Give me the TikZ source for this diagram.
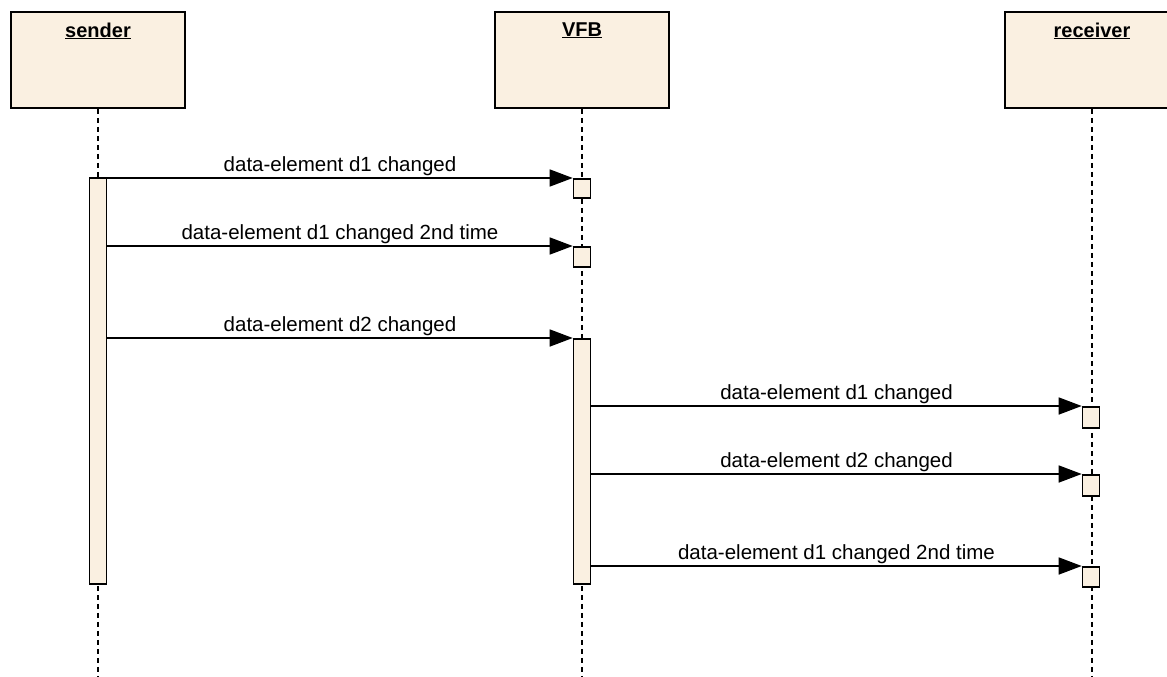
\documentclass[tikz,border=0pt]{standalone}
\usepackage{fontspec}
\setmainfont{Liberation Sans}
\usepackage{xcolor}
\usetikzlibrary{arrows.meta}

\definecolor{umlbeige}{RGB}{250,240,225}

\tikzset{
  lifehead/.style={draw, fill=umlbeige, line width=1.8pt, minimum width=174pt, minimum height=96pt, anchor=north, inner sep=0pt},
  headtext/.style={anchor=north, font=\fontsize{20}{24}\selectfont\bfseries, yshift=-8pt},
  lifeline/.style={line width=1.5pt, dash pattern=on 5pt off 4pt},
  actbar/.style={draw, fill=umlbeige, line width=1.6pt, minimum width=17pt, anchor=north, inner sep=0pt},
  msg/.style={line width=1.5pt, -{Triangle[length=23pt,width=17pt]}},
  msgtext/.style={above, inner sep=1.5pt, font=\fontsize{20.5}{24}\selectfont}
}

\begin{document}
\begin{tikzpicture}[x=1pt,y=-1pt]
\useasboundingbox (0,0) rectangle (1167,677);

%lifeline heads
\node[lifehead, label={[headtext]north:\underline{sender}}] (sender) at (98,11) {};
\node[lifehead, label={[headtext]north:\underline{VFB}}] (vfb) at (582,11) {};
\node[lifehead, label={[headtext]north:\underline{receiver}}] (receiver) at (1092,11) {};

\coordinate (sender-end) at (98,677);
\coordinate (vfb-end) at (582,677);
\coordinate (receiver-end) at (1092,677);

\draw[lifeline] (sender.south) -- (sender-end);
\draw[lifeline] (vfb.south) -- (vfb-end);
\draw[lifeline] (receiver.south) -- (receiver-end);

%activations
\node[actbar, minimum height=406pt] (sa) at (98,177) {};
\node[actbar, minimum height=19pt] (va1) at (582,178) {};
\node[actbar, minimum height=20pt] (va2) at (582,246) {};
\node[actbar, minimum height=245pt] (va3) at (582,338) {};
\node[actbar, minimum height=21pt] (ra1) at (1091,406) {};
\node[actbar, minimum height=21pt] (ra2) at (1091,474) {};
\node[actbar, minimum height=20pt] (ra3) at (1091,566) {};

%messages
\draw[msg] (sa.east |- va1.north west) -- (va1.north west) node[msgtext, midway]{data-element d1 changed};
\draw[msg] (sa.east |- va2.north west) -- (va2.north west) node[msgtext, midway]{data-element d1 changed 2nd time};
\draw[msg] (sa.east |- va3.north west) -- (va3.north west) node[msgtext, midway]{data-element d2 changed};

\draw[msg] (va3.east |- ra1.north west) -- (ra1.north west) node[msgtext, midway]{data-element d1 changed};
\draw[msg] (va3.east |- ra2.north west) -- (ra2.north west) node[msgtext, midway]{data-element d2 changed};
\draw[msg] (va3.east |- ra3.north west) -- (ra3.north west) node[msgtext, midway]{data-element d1 changed 2nd time};
\end{tikzpicture}
\end{document}
